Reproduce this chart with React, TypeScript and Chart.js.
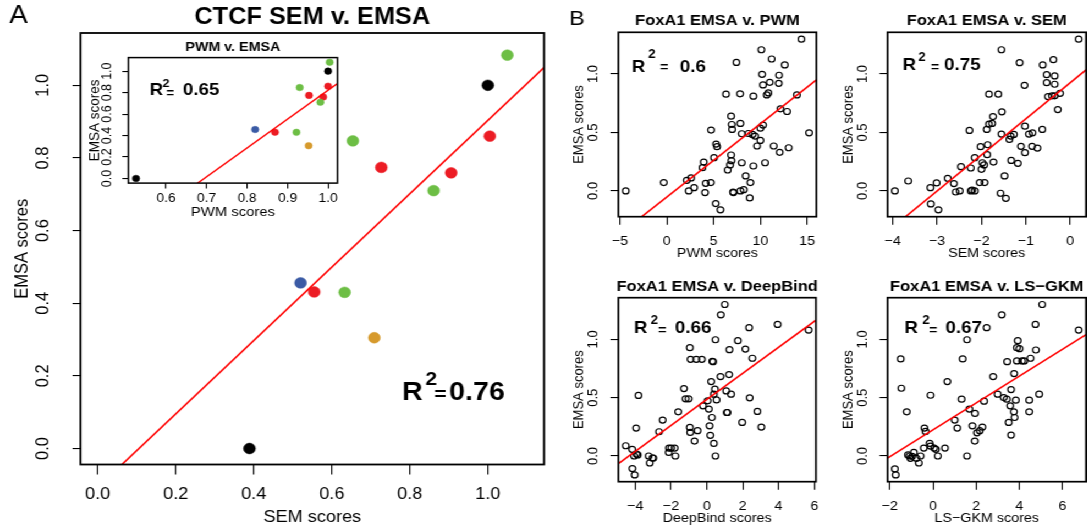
import React, { useEffect, useRef } from 'react';
import { Chart, registerables } from 'chart.js';

Chart.register(...registerables);

// The whole figure is laid out narrower and widened with a CSS scaleX,
// which gives the slightly wide lettering and oval markers of the print.
const STRETCH = 1.1;
const FONT = '"Liberation Sans", Arial, Helvetica, sans-serif';

const GREEN = '#6dbe45';
const RED = '#ec1c24';
const BLUE = '#3b5ba5';
const ORANGE = '#d69a2d';
const BLACK = '#000000';

// ---- Panel A: CTCF (one entry per tested sequence) ----
const ctcfSem = [1.05, 1.0, 0.654, 1.005, 0.727, 0.906, 0.861, 0.52, 0.555, 0.633, 0.709, 0.389];
const ctcfPwm = [1.004, 1.0, 0.93, 1.0, 0.953, 0.988, 0.981, 0.82, 0.869, 0.922, 0.952, 0.526];
const ctcfEmsa = [1.083, 1.0, 0.847, 0.86, 0.774, 0.759, 0.71, 0.456, 0.431, 0.43, 0.305, 0.0];
const ctcfColors = [GREEN, BLACK, GREEN, RED, RED, RED, GREEN, BLUE, RED, GREEN, ORANGE, BLACK];
const ctcfSemFit = { slope: 1.0103, intercept: -0.1068 };
const ctcfPwmFit = { slope: 2.69, intercept: -1.868 };
const ctcfLimits: [number, number] = [0, 1.1];
const ctcfTicks = [0, 0.2, 0.4, 0.6, 0.8, 1.0];
const pwmInsetTicks = [0.6, 0.7, 0.8, 0.9, 1.0];

// ---- Panel B: FoxA1, [score, EMSA] pairs ----
const foxPwm: [number, number][] = [
  [-4.38, 0], [-0.32, 0.071], [2.14, 0.091], [2.6, 0.111], [2.35, 0], [2.92, 0.028], [3.95, 0.247],
  [3.81, 0.199], [4.09, -0.014], [4.16, 0.065], [4.7, 0.071], [4.73, 0.52], [5.05, 0.284], [5.27, 0.401],
  [5.37, 0.378], [5.23, -0.108], [5.73, -0.162], [6.33, 0.827], [6.51, 0.179], [6.76, 0.222], [6.87, 0.307],
  [6.9, 0.259], [6.87, 0.639], [6.94, 0.568], [6.98, 0.526], [7.08, -0.009], [7.12, -0.014], [7.44, 1.099],
  [7.83, 0.83], [7.86, 0.577], [8.01, 0.489], [8.01, 0.241], [7.86, 0], [8.22, 0.011], [8.43, 0.128],
  [8.72, 0.491], [8.93, 0.071], [8.86, -0.06], [9.25, 0.81], [9.25, 0.213], [9.15, 0.483], [9.43, 0.469],
  [9.64, 0.384], [10.0, 0.432], [10.0, 0.537], [10.1, 1.207], [10.18, 0.997], [10.28, 0.906], [10.28, 0.563],
  [10.5, 0.241], [10.68, 0.821], [10.85, 0.838], [11.0, 0.929], [11.2, 1.128], [11.42, 0.384], [11.99, 0.989],
  [11.96, 0.92], [12.06, 0.33], [12.14, 0.702], [12.6, 1.077], [12.85, 0.679], [13.02, 0.369], [13.9, 0.821],
  [14.38, 1.298], [15.2, 0.497],
];
const foxSem: [number, number][] = [
  [-3.95, 0], [-3.65, 0.085], [-3.15, 0.028], [-3.01, 0.068], [-3.14, -0.111], [-2.97, -0.162], [-2.76, 0.108],
  [-2.62, 0.063], [-2.58, -0.009], [-2.49, 0], [-2.46, 0.207], [-2.27, 0.517], [-2.24, 0.196], [-2.24, 0],
  [-2.21, 0.006], [-2.15, 0], [-2.15, 0.284], [-2.02, 0.378], [-2.0, 0.185], [-1.98, 0.241], [-1.94, 0.222],
  [-2.04, 0.071], [-1.93, 0.071], [-1.88, 0.526], [-1.87, 0.31], [-1.86, 0.395], [-1.83, 0.827], [-1.83, 0.571],
  [-1.76, 0.577], [-1.74, 0.636], [-1.73, 0.247], [-1.62, 0.827], [-1.55, 1.207], [-1.55, 0.486], [-1.54, 0.676],
  [-1.57, -0.02], [-1.48, 0.128], [-1.45, -0.063], [-1.37, 0.44], [-1.34, 0.469], [-1.33, 0.261], [-1.27, 0.483],
  [-1.18, 0.236], [-1.14, 1.097], [-1.11, 0.381], [-1.03, 0.903], [-1.02, 0.554], [-1.02, 0.327], [-0.93, 0.486],
  [-0.85, 0.497], [-0.86, 0.381], [-0.74, 0.366], [-0.63, 0.526], [-0.62, 1.077], [-0.53, 0.994], [-0.53, 0.926],
  [-0.5, 0.807], [-0.41, 0.813], [-0.38, 1.122], [-0.35, 0.983], [-0.35, 0.912], [-0.35, 0.813], [-0.23, 0.835],
  [-0.28, 0.696], [0.19, 1.298],
];
const foxDeepBind: [number, number][] = [
  [-4.53, 0.088], [-4.17, 0.057], [-4.16, -0.108], [-4.03, -0.162], [-4.06, 0], [-3.93, 0.017], [-3.86, 0.009],
  [-3.95, 0.239], [-3.82, 0.519], [-3.25, 0], [-3.19, -0.06], [-3.04, -0.017], [-2.99, -0.017], [-2.47, 0.308],
  [-2.67, 0.208], [-2.12, 0.068], [-1.99, 0.068], [-1.8, 0.068], [-2.13, 0.031], [-1.76, 0], [-1.6, 0.379],
  [-1.28, 0.578], [-1.19, 0.49], [-1.02, 0.49], [-0.95, 0.929], [-0.91, 0.829], [-0.95, 0.245], [-0.93, 0.202],
  [-0.69, 0.128], [-0.59, 0.829], [-0.52, 0.217], [-0.28, 0.829], [-0.22, 0.43], [0.04, 0.473], [0.11, 0.402],
  [0.15, 0.259], [0.19, 0.177], [0.24, 0.638], [0.28, 0.33], [0.3, 0.812], [0.35, 0.809], [0.39, 0.53],
  [0.45, 0.573], [0.39, 0.108], [0.48, 0.997], [0.48, 0], [0.54, 0.481], [0.78, 1.211], [0.76, 0.681],
  [1.0, 1.299], [1.08, 0.558], [1.11, 0.373], [1.15, 0.373], [1.24, 0.698], [1.26, 0.912], [1.35, 0.53],
  [1.73, 0.989], [1.97, 0.288], [2.15, 0.917], [2.36, 1.1], [2.39, 0.499], [2.54, 0.838], [2.82, 0.382],
  [3.04, 0.248], [3.95, 1.128], [5.68, 1.08],
];
const foxLsgkm: [number, number][] = [
  [-1.76, -0.111], [-1.72, -0.162], [-1.49, 0.832], [-1.46, 0.581], [-1.21, 0.379], [-1.15, 0.009], [-1.08, 0],
  [-1.04, -0.02], [-0.96, -0.003], [-0.88, 0.031], [-0.76, -0.02], [-0.65, -0.06], [-0.57, 0], [-0.42, 0.068],
  [-0.39, 0.239], [-0.34, 0.211], [-0.15, 0.108], [-0.11, 0.521], [-0.11, 0.085], [0.06, 0.068], [0.14, 0.057],
  [0.23, 0], [0.56, 0.068], [0.67, 0.638], [1.01, 0.308], [1.13, 0.239], [1.33, 0.487], [1.38, 0.832],
  [1.58, 0], [1.58, 0.997], [1.69, 0.402], [1.83, 0.259], [1.94, 0.128], [1.95, 0.365], [2.04, 0.199],
  [2.17, 0.217], [2.29, 0.248], [2.37, 0.47], [2.49, 1.1], [2.79, 0.681], [3.0, 0.53], [3.19, 1.211],
  [3.28, 0.501], [3.42, 0.487], [3.44, 0.809], [3.51, 0.288], [3.58, 0.43], [3.62, 0.57], [3.62, 0.179],
  [3.75, 0.379], [3.76, 0.707], [3.78, 0.33], [3.84, 0.479], [3.89, 0.929], [3.93, 0.989], [3.89, 0.815],
  [4.01, 0.92], [4.13, 0.815], [4.23, 0.815], [4.46, 0.379], [4.46, 0.479], [4.52, 0.838], [4.75, 1.128],
  [4.77, 0.909], [4.92, 0.53], [5.06, 1.299], [6.75, 1.08],
];
const foxPwmFit = { slope: 0.0627, intercept: -0.0525 };
const foxSemFit = { slope: 0.309, intercept: 0.926 };
const foxDeepBindFit = { slope: 0.1116, intercept: 0.486 };
const foxLsgkmFit = { slope: 0.1151, intercept: 0.224 };

const foxPwmTicks = [-5, 0, 5, 10, 15];
const foxSemTicks = [-4, -3, -2, -1, 0];
const foxDeepBindTicks = [-4, -2, 0, 2, 4, 6];
const foxLsgkmTicks = [-2, 0, 2, 4, 6];
const foxEmsaTicks = [0, 0.5, 1.0];

// ---- helpers ----
type Fit = { slope: number; intercept: number };
type R2Label = {
  x: number; y: number; text: string; size: number;
  supSize: number; supDx: number; supRise: number;
  eqSize: number; eqDx: number; eqRise: number; valueDx: number;
};
type PanelSpec = {
  frame: { x: number; y: number; w: number; h: number };
  box: { l: number; t: number; r: number; b: number };
  xRange: [number, number];
  yRange: [number, number];
  xTicks: number[];
  yTicks: number[];
  xFmt: (v: number) => string;
  yFmt: (v: number) => string;
  xTitle: string;
  yTitle: string;
  tickSize: number;
  axisTitleSize: number;
  xTickLen: number;
  yTickLen: number;
  xLabelOff: number;
  xTitleOff: number;
  yLabelOff: number;
  yTitleOff: number;
  title: string;
  titleSize: number;
  titleOff: number;
  letter?: { text: string; x: number; y: number; size: number };
  points: { x: number; y: number }[];
  colors: string | string[];
  filled: boolean;
  radius: number;
  markerWidth: number;
  fit: Fit;
  lineWidth: number;
  r2: R2Label;
  boxWidth: number;
};

// R's default axis range: data range widened by 4% on each side
function rRange(values: number[]): [number, number] {
  const lo = Math.min(...values);
  const hi = Math.max(...values);
  const pad = (hi - lo) * 0.04;
  return [lo - pad, hi + pad];
}
const fixed1 = (v: number) => v.toFixed(1);
const signedInt = (v: number) => (v < 0 ? '\u2212' + Math.abs(v) : String(v));
const pairs = (xs: number[], ys: number[]) => xs.map((x, i) => ({ x, y: ys[i] }));
const fromTuples = (t: [number, number][]) => t.map(([x, y]) => ({ x, y }));

function measureWidest(labels: string[], size: number) {
  const c = document.createElement('canvas').getContext('2d');
  if (!c) return size * 1.39;
  c.font = `${size}px ${FONT}`;
  return Math.max(...labels.map((l) => c.measureText(l).width));
}

function decorPlugin(spec: PanelSpec) {
  return {
    id: 'decor',
    afterDatasetsDraw(chart: any) {
      const { ctx, chartArea: a } = chart;
      ctx.save();
      ctx.strokeStyle = '#000';
      ctx.lineWidth = spec.boxWidth;
      ctx.strokeRect(a.left, a.top, a.right - a.left, a.bottom - a.top);

      ctx.fillStyle = '#000';
      ctx.textAlign = 'center';
      ctx.textBaseline = 'middle';
      ctx.font = `bold ${spec.titleSize}px ${FONT}`;
      ctx.fillText(spec.title, (a.left + a.right) / 2, a.top - spec.titleOff);

      if (spec.letter) {
        const L = spec.letter;
        ctx.font = `${L.size}px ${FONT}`;
        ctx.fillText(L.text, (L.x - spec.frame.x) / STRETCH, L.y - spec.frame.y);
      }

      const r = spec.r2;
      const x0 = chart.scales.x.getPixelForValue(r.x);
      const y0 = chart.scales.y.getPixelForValue(r.y);
      ctx.textAlign = 'left';
      ctx.textBaseline = 'alphabetic';
      ctx.font = `bold ${r.size}px ${FONT}`;
      ctx.fillText('R', x0, y0);
      ctx.fillText(r.text, x0 + r.valueDx, y0);
      ctx.font = `bold ${r.supSize}px ${FONT}`;
      ctx.fillText('2', x0 + r.supDx, y0 - r.supRise);
      ctx.font = `bold ${r.eqSize}px ${FONT}`;
      ctx.fillText('=', x0 + r.eqDx, y0 - r.eqRise);
      ctx.restore();
    },
  };
}

function buildConfig(spec: PanelSpec) {
  const S = STRETCH;
  const fx = spec.frame.x / S;
  const fw = Math.round(spec.frame.w / S);
  const fh = spec.frame.h;
  const boxL = spec.box.l / S;
  const boxR = spec.box.r / S;

  const scaleLeft = (spec.box.l - spec.yTitleOff) / S - spec.axisTitleSize / 2;
  const padLeft = scaleLeft - fx;
  const yAxisWidth = boxL - scaleLeft;
  const yTickLen = spec.yTickLen / S;
  const yTickCenter = (spec.box.l - spec.yLabelOff) / S;
  const widest = measureWidest(spec.yTicks.map(spec.yFmt), spec.tickSize);
  const yTickPad = boxL - yTickLen - yTickCenter - widest / 2;
  const padRight = Math.max(0, fx + fw - boxR);
  const padTop = spec.box.t - spec.frame.y;
  const xTickPad = spec.xLabelOff - spec.xTickLen - spec.tickSize / 2;
  const xAxisHeight = spec.xTitleOff + spec.axisTitleSize / 2;
  const padBottom = spec.frame.y + fh - spec.box.b - xAxisHeight;

  const tickFont = { family: FONT, size: spec.tickSize, lineHeight: 1 };
  const axisTitleFont = { family: FONT, size: spec.axisTitleSize, lineHeight: 1 };
  const [x0, x1] = spec.xRange;
  const fitAt = (x: number) => spec.fit.intercept + spec.fit.slope * x;

  return {
    type: 'scatter',
    data: {
      datasets: [
        {
          data: [{ x: x0, y: fitAt(x0) }, { x: x1, y: fitAt(x1) }],
          showLine: true,
          borderColor: '#ff0000',
          borderWidth: spec.lineWidth,
          pointRadius: 0,
          fill: false,
        },
        {
          data: spec.points,
          pointRadius: spec.radius,
          pointBorderWidth: spec.markerWidth,
          pointBackgroundColor: spec.filled ? spec.colors : 'rgba(0,0,0,0)',
          pointBorderColor: spec.colors,
        },
      ],
    },
    options: {
      responsive: false,
      maintainAspectRatio: false,
      animation: false,
      events: [],
      layout: {
        autoPadding: false,
        padding: { left: padLeft, right: padRight, top: padTop, bottom: padBottom },
      },
      plugins: {
        legend: { display: false },
        tooltip: { enabled: false },
        title: { display: false },
      },
      scales: {
        x: {
          type: 'linear',
          position: 'bottom',
          min: x0,
          max: x1,
          afterBuildTicks: (s: any) => {
            s.ticks = spec.xTicks.map((v) => ({ value: v }));
          },
          afterFit: (s: any) => {
            s.height = xAxisHeight;
          },
          grid: {
            display: true,
            drawOnChartArea: false,
            drawTicks: true,
            tickLength: spec.xTickLen,
            color: '#000',
            lineWidth: 1.1,
          },
          border: { display: false },
          ticks: {
            autoSkip: false,
            minRotation: 0,
            maxRotation: 0,
            padding: xTickPad,
            color: '#000',
            font: tickFont,
            callback: (v: any) => spec.xFmt(Number(v)),
          },
          title: { display: true, text: spec.xTitle, color: '#000', font: axisTitleFont, padding: 0 },
        },
        y: {
          type: 'linear',
          position: 'left',
          min: spec.yRange[0],
          max: spec.yRange[1],
          afterBuildTicks: (s: any) => {
            s.ticks = spec.yTicks.map((v) => ({ value: v }));
          },
          afterFit: (s: any) => {
            s.width = yAxisWidth;
          },
          grid: {
            display: true,
            drawOnChartArea: false,
            drawTicks: true,
            tickLength: yTickLen,
            color: '#000',
            lineWidth: 1.1,
          },
          border: { display: false },
          ticks: {
            autoSkip: false,
            minRotation: 90,
            maxRotation: 90,
            crossAlign: 'center',
            padding: yTickPad,
            color: '#000',
            font: tickFont,
            callback: (v: any) => spec.yFmt(Number(v)),
          },
          title: { display: true, text: spec.yTitle, color: '#000', font: axisTitleFont, padding: 0 },
        },
      },
    },
    plugins: [decorPlugin(spec)],
  };
}

// ---- panel definitions ----
const bCommon = {
  tickSize: 13,
  axisTitleSize: 13,
  xTickLen: 8,
  yTickLen: 8,
  xLabelOff: 24.5,
  xTitleOff: 36.6,
  yLabelOff: 25,
  yTitleOff: 39,
  titleSize: 15,
  titleOff: 11,
  colors: BLACK,
  filled: false,
  radius: 3,
  markerWidth: 1.2,
  lineWidth: 1.6,
  boxWidth: 1.7,
  yTicks: foxEmsaTicks,
  yFmt: fixed1,
  xFmt: signedInt,
  yTitle: 'EMSA scores',
};

const ctcfSemSpec: PanelSpec = {
  frame: { x: 0, y: 0, w: 560, h: 529 },
  box: { l: 80.5, t: 33, r: 544, b: 464.5 },
  xRange: rRange(ctcfLimits),
  yRange: rRange(ctcfLimits),
  xTicks: ctcfTicks,
  yTicks: ctcfTicks,
  xFmt: fixed1,
  yFmt: fixed1,
  xTitle: 'SEM scores',
  yTitle: 'EMSA scores',
  tickSize: 16.5,
  axisTitleSize: 16.5,
  xTickLen: 10,
  yTickLen: 8,
  xLabelOff: 29.5,
  xTitleOff: 52.5,
  yLabelOff: 37.2,
  yTitleOff: 58.5,
  title: 'CTCF SEM v. EMSA',
  titleSize: 23,
  titleOff: 15,
  letter: { text: 'A', x: 18.4, y: 15.7, size: 25 },
  points: pairs(ctcfSem, ctcfEmsa),
  colors: ctcfColors,
  filled: true,
  radius: 5.4,
  markerWidth: 0.5,
  fit: ctcfSemFit,
  lineWidth: 1.6,
  r2: { x: 0.7805, y: 0.134, text: '0.76', size: 26, supSize: 19, supDx: 21.1, supRise: 15.2, eqSize: 19, eqDx: 29.2, eqRise: 0, valueDx: 42.7 },
  boxWidth: 1.8,
};

const ctcfPwmSpec: PanelSpec = {
  frame: { x: 84, y: 36, w: 258, h: 186 },
  box: { l: 128.7, t: 57.6, r: 337.8, b: 183.1 },
  xRange: rRange(ctcfPwm),
  yRange: rRange(ctcfEmsa),
  xTicks: pwmInsetTicks,
  yTicks: ctcfTicks,
  xFmt: fixed1,
  yFmt: fixed1,
  xTitle: 'PWM scores',
  yTitle: 'EMSA scores',
  tickSize: 12.5,
  axisTitleSize: 13.5,
  xTickLen: 5.5,
  yTickLen: 6,
  xLabelOff: 15.6,
  xTitleOff: 29.6,
  yLabelOff: 21.2,
  yTitleOff: 33.7,
  title: 'PWM v. EMSA',
  titleSize: 13,
  titleOff: 9.9,
  points: pairs(ctcfPwm, ctcfEmsa),
  colors: ctcfColors,
  filled: true,
  radius: 3.3,
  markerWidth: 0.5,
  fit: ctcfPwmFit,
  lineWidth: 1.4,
  r2: { x: 0.5595, y: 0.777, text: '0.65', size: 17, supSize: 11.5, supDx: 11.8, supRise: 7.7, eqSize: 12, eqDx: 15.2, eqRise: -1.5, valueDx: 30.3 },
  boxWidth: 1.5,
};

const xsOf = (t: [number, number][]) => t.map((p) => p[0]);
const ysOf = (t: [number, number][]) => t.map((p) => p[1]);

const foxPwmSpec: PanelSpec = {
  ...bCommon,
  frame: { x: 560, y: 0, w: 270, h: 264 },
  box: { l: 618.5, t: 32.3, r: 816.5, b: 216.7 },
  xRange: rRange(xsOf(foxPwm)),
  yRange: rRange(ysOf(foxPwm)),
  xTicks: foxPwmTicks,
  xTitle: 'PWM scores',
  title: 'FoxA1 EMSA v. PWM',
  letter: { text: 'B', x: 577, y: 19, size: 21 },
  points: fromTuples(foxPwm),
  fit: foxPwmFit,
  r2: { x: -3.753, y: 1.0195, text: '0.6', size: 17, supSize: 12, supDx: 15.1, supRise: 13.4, eqSize: 13, eqDx: 25.7, eqRise: 0.5, valueDx: 43.9 },
};

const foxSemSpec: PanelSpec = {
  ...bCommon,
  frame: { x: 830, y: 0, w: 256, h: 264 },
  box: { l: 887, t: 32.3, r: 1085.5, b: 216.7 },
  xRange: rRange(xsOf(foxSem)),
  yRange: rRange(ysOf(foxSem)),
  xTicks: foxSemTicks,
  xTitle: 'SEM scores',
  title: 'FoxA1 EMSA v. SEM',
  points: fromTuples(foxSem),
  fit: foxSemFit,
  r2: { x: -3.778, y: 1.034, text: '0.75', size: 17, supSize: 12, supDx: 14.2, supRise: 9.3, eqSize: 13, eqDx: 25.7, eqRise: -1.3, valueDx: 37.8 },
};

const foxDeepBindSpec: PanelSpec = {
  ...bCommon,
  frame: { x: 560, y: 264, w: 270, h: 265 },
  box: { l: 618.5, t: 297.7, r: 816.5, b: 481.7 },
  xRange: rRange(xsOf(foxDeepBind)),
  yRange: rRange(ysOf(foxDeepBind)),
  xTicks: foxDeepBindTicks,
  xTitle: 'DeepBind scores',
  title: 'FoxA1 EMSA v. DeepBind',
  points: fromTuples(foxDeepBind),
  fit: foxDeepBindFit,
  r2: { x: -4.075, y: 1.052, text: '0.66', size: 17, supSize: 12, supDx: 15.2, supRise: 9.5, eqSize: 13, eqDx: 22.1, eqRise: -1, valueDx: 37.3 },
};

const foxLsgkmSpec: PanelSpec = {
  ...bCommon,
  frame: { x: 830, y: 264, w: 256, h: 265 },
  box: { l: 887, t: 297.7, r: 1085.5, b: 481.7 },
  xRange: rRange(xsOf(foxLsgkm)),
  yRange: rRange(ysOf(foxLsgkm)),
  xTicks: foxLsgkmTicks,
  xTitle: 'LS\u2212GKM scores',
  title: 'FoxA1 EMSA v. LS\u2212GKM',
  points: fromTuples(foxLsgkm),
  fit: foxLsgkmFit,
  r2: { x: -1.313, y: 1.052, text: '0.67', size: 17, supSize: 12, supDx: 16.1, supRise: 9.5, eqSize: 13, eqDx: 22.1, eqRise: -1, valueDx: 37.3 },
};

const panels = [ctcfSemSpec, ctcfPwmSpec, foxPwmSpec, foxSemSpec, foxDeepBindSpec, foxLsgkmSpec];

function ChartPanel({ spec }: { spec: PanelSpec }) {
  const ref = useRef<HTMLCanvasElement | null>(null);
  const w = Math.round(spec.frame.w / STRETCH);
  useEffect(() => {
    if (!ref.current) return;
    const chart = new Chart(ref.current, buildConfig(spec) as any);
    return () => chart.destroy();
  }, [spec]);
  return (
    <canvas
      ref={ref}
      width={w}
      height={spec.frame.h}
      style={{
        position: 'absolute',
        left: spec.frame.x / STRETCH,
        top: spec.frame.y,
        width: w,
        height: spec.frame.h,
      }}
    />
  );
}

export default function App() {
  return (
    <div
      style={{
        position: 'absolute',
        left: 0,
        top: 0,
        width: Math.floor(1087 / STRETCH),
        height: 529,
        overflow: 'hidden',
        background: '#ffffff',
        transform: `scaleX(${STRETCH})`,
        transformOrigin: '0 0',
      }}
    >
      {panels.map((p, i) => (
        <ChartPanel key={i} spec={p} />
      ))}
    </div>
  );
}
